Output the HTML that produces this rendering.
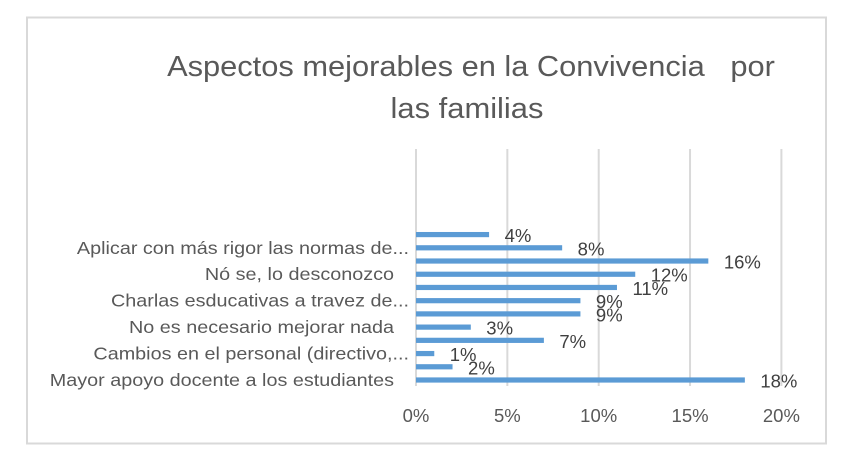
<!DOCTYPE html>
<html lang="es">
<head>
<meta charset="utf-8">
<title>Aspectos mejorables en la Convivencia por las familias</title>
<style>
html,body{margin:0;padding:0;background:#fff;width:848px;height:456px;overflow:hidden}
svg{display:block}
text{font-family:"Liberation Sans",sans-serif;white-space:pre}
</style>
</head>
<body>
<svg id="chart" width="848" height="456" viewBox="0 0 848 456" xmlns="http://www.w3.org/2000/svg">
<rect x="27" y="17.5" width="799" height="426" fill="#fff" stroke="#d9d9d9" stroke-width="2"/>
<g id="title" fill="#595959" font-size="29" text-anchor="middle">
<text transform="translate(471,76) scale(1.063,1)">Aspectos mejorables en la Convivencia   por</text>
<text transform="translate(467,118) scale(1.066,1)">las familias</text>
</g>
<g id="grid"></g>
<g id="bars"></g>
<g id="cats"></g>
<g id="vals"></g>
<g id="ticks"></g>
</svg>
<script>
// Bottom-to-top order; empty names are categories whose labels the axis skips.
const categories = [
  "Mayor apoyo docente a los estudiantes  \u2009",
  "",
  "Cambios en el personal (directivo,...",
  "",
  "No es necesario mejorar nada  \u2009",
  "",
  "Charlas esducativas a travez de...",
  "",
  "Nó se, lo desconozco  \u2009",
  "",
  "Aplicar con más rigor las normas de...",
  ""
];
const values = [18, 2, 1, 7, 3, 9, 9, 11, 12, 16, 8, 4];
const xTicks = [0, 5, 10, 15, 20];

const NS = "http://www.w3.org/2000/svg";
function x(v){ return 416 + v * 18.27; }
function y(i){ return 380 - i * 13.22; }
function make(tag, attrs, parent, txt){
  const el = document.createElementNS(NS, tag);
  for (const k in attrs) el.setAttribute(k, attrs[k]);
  if (txt !== undefined) el.textContent = txt;
  parent.appendChild(el);
  return el;
}
const grid = document.getElementById("grid");
const bars = document.getElementById("bars");
const cats = document.getElementById("cats");
const vals = document.getElementById("vals");
const ticks = document.getElementById("ticks");

xTicks.forEach(function(t){
  const line = make("line", {x1:x(t), x2:x(t), y1:149, y2:386, stroke:"#d9d9d9", "stroke-width":2}, grid);
  
  
  const label = make("text", {x:x(t), y:422, "text-anchor":"middle", "font-size":18.5, fill:"#595959"}, ticks, t + "%");
  
  
});

values.forEach(function(v, i){
  const bar = make("rect", {x:x(0), y:y(i) - 2.6, width:x(v) - x(0), height:5.2, fill:"#5b9bd5"}, bars);
  
  
  const label = make("text", {x:x(v) + 15.5, y:y(i) + 7.5, "font-size":18.5, fill:"#404040"}, vals, v + "%");
  
  
  if (categories[i]) {
    const cat = make("text", {transform:"translate(409," + (y(i) + 6) + ") scale(1.1,1)", "text-anchor":"end", "font-size":18, fill:"#595959"}, cats, categories[i]);
    
    
  }
});
</script>
</body>
</html>
